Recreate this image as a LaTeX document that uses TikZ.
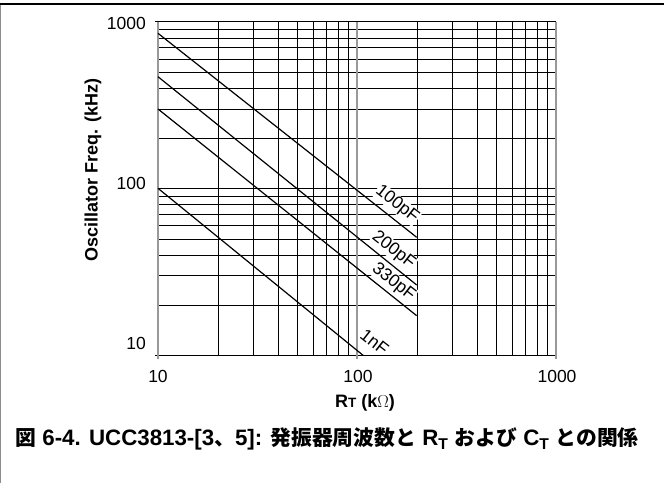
\documentclass[tikz,border=0pt]{standalone}
\usepackage{fontspec}
\setmainfont{Liberation Sans}
\newfontfamily\cjk{Noto Sans CJK JP}
\newcommand{\jp}[1]{{\cjk\fontsize{20.8}{24}\selectfont #1}}
\begin{document}
\begin{tikzpicture}[x=1pt,y=-1pt,
  txt/.style={font=\fontsize{17.5}{20}\selectfont, inner sep=0pt},
  clabel/.style={font=\fontsize{17.5}{20}\selectfont, fill=white, inner sep=0.6pt, rotate=-38},
  minorv/.style={line width=1pt, black},
  decv/.style={line width=1.7pt, black!40},
  hline/.style={line width=1.2pt, black},
  curve/.style={line width=1.2pt, black},
  frameline/.style={line width=1.2pt}]
\useasboundingbox (0,0) rectangle (664,483);
% frame
\draw[frameline, black!45] (0.8,4) -- (0.8,483);
\draw[frameline, black] (0,4) -- (664,4);
% minor vertical grid lines
\foreach \d in {10,100}{
  \foreach \m in {2,...,9}{
    \pgfmathsetmacro\xx{round(158+199*ln(\d*\m/10)/ln(10))+0.5}
    \draw[minorv] (\xx,21.5) -- (\xx,355.5);
  }
}
% horizontal grid lines
\foreach \d in {10,100}{
  \foreach \m in {2,...,9}{
    \pgfmathsetmacro\yy{round(355-166.67*ln(\d*\m/10)/ln(10))+0.5}
    \draw[hline] (158,\yy) -- (556,\yy);
  }
}
\draw[hline] (155,21.5) -- (556,21.5);
\draw[hline] (158,188.5) -- (556,188.5);
% curve labels
\node[clabel] (l100) at (397,204.5) {100pF};
\node[clabel] (l200) at (393.5,250.5) {200pF};
\node[clabel] (l330) at (393.5,282) {330pF};
\node[clabel] (l1n) at (374.5,342.5) {1nF};
% bottom line and decade vertical lines
\draw[hline] (155,355.5) -- (556,355.5);
\foreach \xx in {158,357,556}{
  \draw[decv] (\xx,21.5) -- (\xx,359);
}
% tick labels
\node[txt, anchor=east] (yl1000) at (146,23) {1000};
\node[txt, anchor=east] (yl100) at (146,183) {100};
\node[txt, anchor=east] (yl10) at (146,343) {10};
\node[txt] (xl10) at (158,376) {10};
\node[txt] (xl100) at (358,376) {100};
\node[txt] (xl1000) at (557,376) {1000};
% axis labels
\node[font=\fontsize{18}{20}\selectfont\bfseries, rotate=90, inner sep=0pt] (ylab) at (93,170) {Oscillator Freq. (kHz)};
\node[font=\fontsize{18}{20}\selectfont\bfseries, inner sep=0pt] (xlab) at (365,403) {R{\fontsize{13.5}{14}\selectfont T} (k$\Omega$)};
% curves
\coordinate (c100a) at (158,33.3);
\coordinate (c100b) at (416.7,237.3);
\coordinate (c200a) at (158,76.7);
\coordinate (c200b) at (416.7,285);
\coordinate (c330a) at (158,109);
\coordinate (c330b) at (416.7,315.7);
\coordinate (c1na) at (158,188.3);
\coordinate (c1nb) at (363.3,355.5);
\draw[curve] (c100a) -- (c100b);
\draw[curve] (c200a) -- (c200b);
\draw[curve] (c330a) -- (c330b);
\draw[curve] (c1na) -- (c1nb);
% caption
\node[font=\fontsize{22.3}{24}\selectfont\bfseries, inner sep=0pt] (cap) at (327,439)
  {\jp{図} 6-4. UCC3813-[3\jp{、}5]: \jp{発振器周波数と} R\textsubscript{T} \jp{および} C\textsubscript{T} \jp{との関係}};
\end{tikzpicture}
\end{document}
